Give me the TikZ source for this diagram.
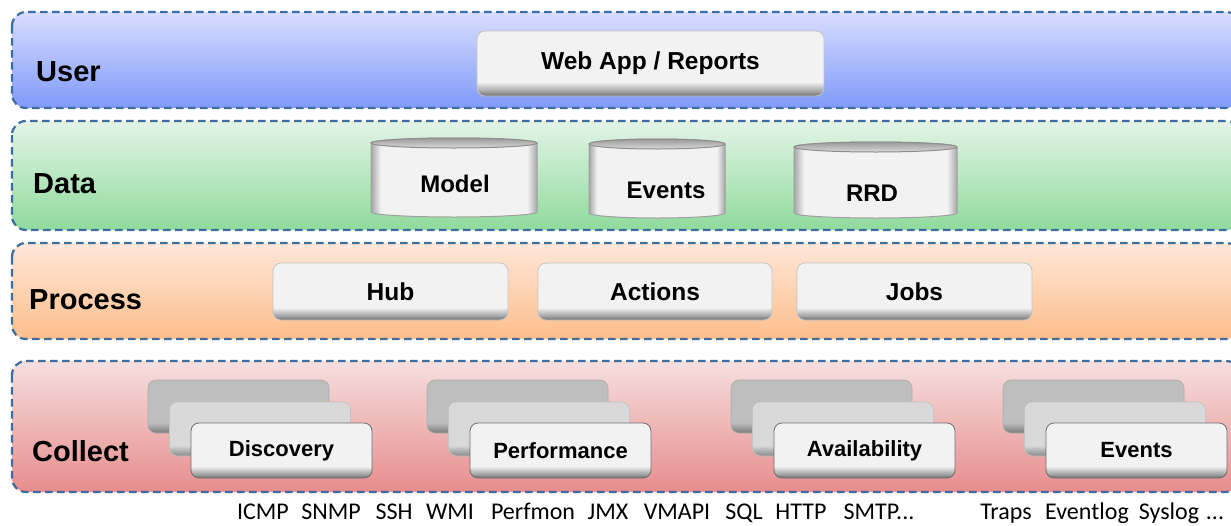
\documentclass[tikz,border=0pt]{standalone}
\usepackage{fontspec}
\setmainfont{Liberation Sans}
\newfontfamily\calibfont{Carlito}
\definecolor{dashc}{HTML}{3D6DA0}
\definecolor{userT}{HTML}{D9DEFF}
\definecolor{userB}{HTML}{7F99F8}
\definecolor{dataT}{HTML}{E3F4E7}
\definecolor{dataB}{HTML}{8FDA9C}
\definecolor{procT}{HTML}{FEE7D8}
\definecolor{procB}{HTML}{FDBE8B}
\definecolor{collT}{HTML}{F6DFDF}
\definecolor{collB}{HTML}{E78D8D}
\definecolor{btnface}{HTML}{F2F2F2}
\definecolor{btnmid}{HTML}{A8A8A8}
\definecolor{btndark}{HTML}{6E6E6E}
\definecolor{btnline}{HTML}{C4C4C4}
\definecolor{backface}{HTML}{BEBEBE}
\definecolor{backdark}{HTML}{7A7A7A}
\definecolor{midface}{HTML}{D9D9D9}
\definecolor{middark}{HTML}{888888}
\definecolor{cylface}{HTML}{F2F2F2}
\definecolor{cyledge}{HTML}{A6A6A6}
\definecolor{cylline}{HTML}{A0A0A0}
\definecolor{capT}{HTML}{9A9A9A}
\definecolor{capB}{HTML}{DADADA}
\definecolor{capline}{HTML}{8E8E8E}
\pgfdeclareverticalshading{btnshade}{100bp}{color(0bp)=(btndark); color(25bp)=(btndark); color(29bp)=(btnmid); color(36bp)=(btnface); color(100bp)=(btnface)}
\pgfdeclareverticalshading{backshade}{100bp}{color(0bp)=(backdark); color(25bp)=(backdark); color(35bp)=(backface); color(100bp)=(backface)}
\pgfdeclareverticalshading{midshade}{100bp}{color(0bp)=(middark); color(25bp)=(middark); color(35bp)=(midface); color(100bp)=(midface)}
\pgfdeclarehorizontalshading{cylshade}{100bp}{color(0bp)=(cyledge); color(25bp)=(cyledge); color(28bp)=(cylface); color(72bp)=(cylface); color(75bp)=(cyledge); color(100bp)=(cyledge)}
\newcommand\dbcyl[4]{%
  \pgfmathsetmacro\dbcx{(#1+#2)/2}%
  \pgfmathsetmacro\dbrx{(#2-#1)/2}%
  \path[shading=cylshade, draw=cylline, line width=1pt] (#1,-#3) -- (#1,-#4)
    arc[start angle=180, end angle=360, x radius=\dbrx, y radius=5] -- (#2,-#3)
    arc[start angle=0, end angle=180, x radius=\dbrx, y radius=5] -- cycle;
  \path[top color=capT, bottom color=capB, draw=capline, line width=1pt]
    (\dbcx,-#3) ellipse[x radius=\dbrx, y radius=5];
}
\newcommand\collectstack[3]{%
  \node[backbox] (#1-back) at ({#2-43+90.5},-406.5) {};
  \node[midbox] (#1-mid) at ({#2-21.5+90.5},-429) {};
  \node[frontbox] (#1) at ({#2+90.5},-450.5) {#3};
}
\begin{document}
\begin{tikzpicture}[x=1pt, y=1pt,
  band/.style={draw=dashc, line width=2.2pt, dash pattern=on 7.5pt off 4.5pt, rounded corners=14pt},
  bandlbl/.style={anchor=base west, inner sep=0pt, text=black, font=\fontsize{29}{34}\selectfont\bfseries},
  btn/.style={rounded corners=8pt, shading=btnshade, draw=btnline, line width=0.8pt,
    text=black, font=\fontsize{24.5}{28}\selectfont\bfseries, inner sep=0pt},
  backbox/.style={rounded corners=8pt, shading=backshade, draw=backface!90!black, line width=0.6pt,
    minimum width=181pt, minimum height=53pt, inner sep=0pt},
  midbox/.style={rounded corners=8pt, shading=midshade, draw=midface!90!black, line width=0.6pt,
    minimum width=181pt, minimum height=54pt, inner sep=0pt},
  frontbox/.style={rounded corners=8pt, shading=btnshade, draw=btndark, line width=0.8pt,
    minimum width=181pt, minimum height=55pt, inner sep=0pt,
    text=black, font=\fontsize{22}{26}\selectfont\bfseries},
  cyltext/.style={inner sep=0pt, text=black, font=\fontsize{24}{28}\selectfont\bfseries},
  proto/.style={anchor=base, inner sep=0pt, text=black, font=\calibfont\fontsize{24}{28}\selectfont}
]
\useasboundingbox (0,0) rectangle (1231,-525);
\fill[white] (0,0) rectangle (1231,-525);
\clip (0,0) rectangle (1231,-525);

% bands
\path[band, top color=userT, bottom color=userB] (12,-12) rectangle (1240,-108);
\path[band, top color=dataT, bottom color=dataB] (12,-121) rectangle (1240,-230);
\path[band, top color=procT, bottom color=procB] (12,-243) rectangle (1240,-339);
\path[band, top color=collT, bottom color=collB] (12,-361) rectangle (1240,-492);

% band labels
\node[bandlbl] (luser) at (36,-81) {User};
\node[bandlbl] (ldata) at (33,-193) {Data};
\node[bandlbl] (lproc) at (29,-309) {Process};
\node[bandlbl] (lcoll) at (32,-461) {Collect};

% user layer
\node[btn, minimum width=347pt, minimum height=65pt] (web) at (650.5,-63.5) {Web App / Reports};

% data layer
\dbcyl{371}{537}{143}{212}
\dbcyl{589}{725}{144}{213}
\dbcyl{794}{957}{147}{213}
\node[cyltext] (model) at (455,-184) {Model};
\node[cyltext] (events) at (666,-190) {Events};
\node[cyltext] (rrd) at (872,-193) {RRD};

% process layer
\node[btn, minimum width=235pt, minimum height=57pt] (hub) at (390.5,-291.5) {Hub};
\node[btn, minimum width=234pt, minimum height=57pt] (actions) at (655,-291.5) {Actions};
\node[btn, minimum width=235pt, minimum height=57pt] (jobs) at (914.5,-291.5) {Jobs};

% collect layer
\collectstack{disc}{191}{Discovery}
\collectstack{perf}{470}{Performance}
\collectstack{avail}{774}{Availability}
\collectstack{cevents}{1046}{Events}

% protocols
\node[proto] (p1) at (263,-519) {ICMP};
\node[proto] (p2) at (331,-519) {SNMP};
\node[proto] (p3) at (394,-519) {SSH};
\node[proto] (p4) at (450,-519) {WMI};
\node[proto] (p5) at (533,-519) {Perfmon};
\node[proto] (p6) at (608,-519) {JMX};
\node[proto] (p7) at (677,-519) {VMAPI};
\node[proto] (p8) at (744,-519) {SQL};
\node[proto] (p9) at (801,-519) {HTTP};
\node[proto] (p10) at (879,-519) {SMTP...};
\node[proto] (p11) at (1006,-519) {Traps};
\node[proto] (p12) at (1087,-519) {Eventlog};
\node[proto] (p13) at (1169,-519) {Syslog};
\node[proto] (p14) at (1215,-519) {...};
\end{tikzpicture}
\end{document}
